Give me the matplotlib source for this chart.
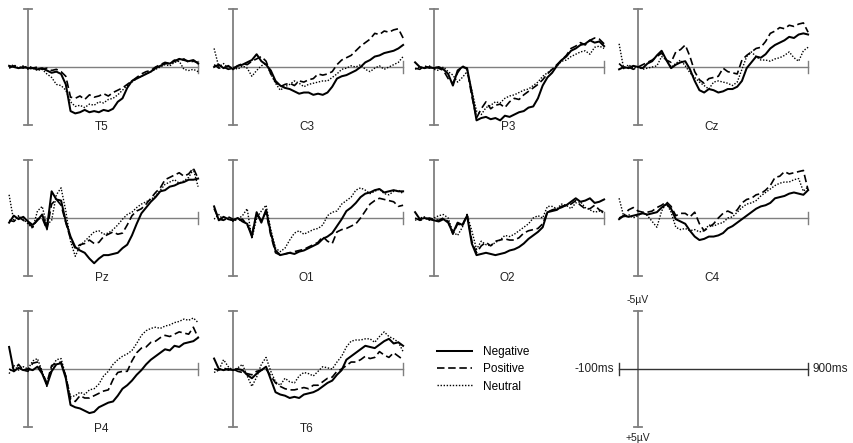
import matplotlib
matplotlib.use("Agg")
import matplotlib.pyplot as plt
from matplotlib.lines import Line2D
import numpy as np

plt.rcParams['font.family'] = ['Liberation Sans', 'DejaVu Sans']

# time axis (ms)
times = list(range(-100, 901, 25))

# amplitudes in microvolts (negative plotted up)
T5_negative = [-0.1, 0.0, 0.1, 0.0, 0.1, 0.1, 0.2, 0.1, 0.3, 0.5, 0.4, 0.6, 1.5, 3.8, 4.0, 3.9, 3.7, 3.9, 3.8, 3.9, 3.7, 3.8, 3.6, 3.0, 2.7, 1.8, 1.2, 1.0, 0.8, 0.6, 0.4, 0.1, -0.1, -0.3, -0.3, -0.5, -0.7, -0.6, -0.5, -0.6, -0.3]
T5_positive = [0.1, -0.1, 0.0, 0.1, -0.1, 0.1, 0.0, 0.2, 0.1, 0.3, 0.2, 0.4, 0.8, 2.6, 2.7, 2.5, 2.8, 2.4, 2.6, 2.5, 2.3, 2.5, 2.2, 2.0, 1.8, 1.5, 1.2, 0.9, 0.6, 0.4, 0.3, 0.0, -0.2, -0.4, -0.3, -0.6, -0.5, -0.7, -0.4, -0.5, -0.4]
T5_neutral = [0.0, -0.2, 0.1, -0.1, 0.2, 0.1, 0.3, 0.2, 0.6, 0.9, 1.5, 1.6, 2.0, 3.0, 3.4, 3.3, 3.5, 3.2, 3.3, 3.0, 3.1, 2.8, 2.7, 2.4, 2.0, 1.6, 1.3, 1.0, 0.8, 0.6, 0.4, 0.2, 0.0, -0.2, -0.1, -0.4, -0.5, 0.2, 0.3, 0.2, 0.4]

C3_negative = [0.0, -0.2, 0.1, -0.1, 0.2, -0.1, -0.2, -0.4, -0.6, -1.1, -0.5, -0.2, 0.3, 1.2, 1.6, 1.8, 1.9, 2.1, 2.3, 2.2, 2.2, 2.4, 2.3, 2.4, 2.2, 1.7, 1.0, 0.8, 0.7, 0.5, 0.3, 0.0, -0.4, -0.6, -0.9, -1.0, -1.2, -1.3, -1.4, -1.6, -1.9]
C3_positive = [-0.2, 0.1, 0.0, 0.2, 0.1, -0.1, -0.3, -0.2, -0.5, -0.7, -0.9, -0.5, 0.6, 1.3, 1.7, 1.5, 1.4, 1.6, 1.2, 1.3, 1.1, 1.0, 0.6, 0.7, 0.6, 0.4, -0.2, -0.6, -0.8, -1.0, -1.4, -1.8, -2.1, -2.4, -2.9, -2.8, -3.1, -3.0, -3.2, -3.3, -2.5]
C3_neutral = [-1.6, 0.0, -0.3, 0.1, 0.0, 0.2, -0.1, 0.1, 0.8, 0.3, -0.1, -0.3, 0.6, 1.4, 2.0, 1.7, 1.5, 1.2, 1.4, 1.7, 1.5, 1.4, 1.3, 1.2, 1.2, 0.9, 0.6, 0.2, 0.1, -0.1, 0.0, -0.2, 0.2, 0.4, 0.1, -0.1, 0.2, 0.0, -0.2, -0.4, -0.9]

P3_negative = [-0.4, 0.0, 0.1, 0.0, 0.1, 0.0, 0.2, 0.6, 1.6, 0.3, 0.0, 0.1, 2.2, 4.6, 4.4, 4.3, 4.5, 4.4, 4.6, 4.2, 4.3, 4.1, 3.9, 3.8, 3.5, 3.4, 2.7, 1.6, 0.9, 0.5, -0.1, -0.6, -0.9, -1.4, -1.6, -1.9, -2.0, -2.3, -2.1, -2.2, -1.8]
P3_positive = [0.1, 0.2, -0.1, 0.1, 0.0, 0.1, 0.3, 1.0, 1.4, 0.5, -0.1, 0.2, 2.5, 4.4, 3.6, 3.0, 3.6, 3.3, 3.2, 3.5, 3.0, 2.7, 2.8, 2.4, 2.1, 1.8, 1.5, 1.1, 0.6, 0.2, -0.2, -0.6, -1.0, -1.6, -1.8, -2.1, -1.9, -2.3, -2.5, -2.4, -2.0]
P3_neutral = [0.2, 0.0, 0.1, -0.1, 0.2, 0.3, 0.0, 0.4, 0.7, 1.3, 0.9, 0.4, 2.0, 3.8, 4.1, 3.5, 3.3, 3.0, 3.1, 2.7, 2.5, 2.4, 2.2, 2.0, 1.9, 1.6, 1.3, 0.8, 0.5, 0.2, -0.1, -0.5, -0.6, -0.9, -1.1, -1.3, -1.4, -1.1, -1.7, -1.8, -1.6]

Cz_negative = [0.2, 0.0, 0.1, -0.1, 0.0, 0.1, -0.3, -0.5, -1.0, -1.4, -0.6, 0.1, -0.2, -0.4, -0.5, 0.2, 1.2, 2.0, 2.2, 1.9, 2.0, 2.2, 2.1, 1.9, 1.9, 1.7, 1.2, 0.1, -0.4, -0.9, -0.8, -1.1, -1.6, -1.9, -2.1, -2.3, -2.6, -2.5, -2.8, -2.9, -2.8]
Cz_positive = [-0.3, 0.1, 0.0, 0.2, 0.0, -0.2, -0.4, -0.6, -0.9, -1.2, -0.6, -0.4, -1.3, -1.5, -1.9, -0.9, 0.4, 1.1, 1.4, 1.0, 0.9, 0.8, 0.1, 0.4, 0.5, 0.6, -0.6, -1.0, -1.3, -1.6, -1.7, -2.2, -2.9, -3.1, -3.4, -3.3, -3.6, -3.5, -3.7, -3.8, -3.0]
Cz_neutral = [-2.0, 0.2, -0.2, 0.1, 0.0, 0.2, 0.1, 0.0, -0.1, -0.9, -0.6, 0.0, -0.3, -0.6, -0.1, 0.5, 0.9, 1.3, 1.6, 1.9, 1.3, 1.2, 1.3, 1.4, 1.6, 1.3, 0.2, -0.9, -1.3, -0.9, -0.6, -0.6, -0.5, -0.7, -0.8, -1.0, -1.3, -0.8, -0.5, -1.4, -1.7]

Pz_negative = [0.4, -0.2, 0.1, -0.1, 0.3, 0.6, 0.2, -0.3, 0.9, -2.3, -1.6, -1.5, 0.3, 1.6, 2.5, 2.8, 3.0, 3.5, 3.9, 3.5, 3.2, 3.2, 3.1, 3.0, 2.6, 2.3, 1.5, 0.5, -0.4, -0.9, -1.4, -1.8, -2.3, -2.4, -2.7, -2.8, -3.0, -3.1, -3.3, -3.3, -3.4]
Pz_positive = [0.2, 0.3, -0.1, 0.2, 0.4, 0.8, 0.1, 0.0, 1.0, -1.2, -1.6, -1.1, 0.4, 1.8, 2.6, 2.3, 2.2, 1.9, 2.2, 2.1, 1.6, 1.4, 1.2, 1.4, 1.3, 0.6, -0.2, -0.6, -0.8, -1.2, -1.7, -2.2, -2.6, -3.3, -3.5, -3.7, -3.9, -3.6, -3.8, -4.3, -3.4]
Pz_neutral = [-2.0, 0.3, -0.2, 0.1, 0.5, 0.9, -0.6, -1.0, 0.6, 0.2, -2.0, -2.6, -0.6, 2.0, 3.3, 2.4, 2.0, 1.6, 1.2, 1.1, 1.4, 1.3, 1.0, 0.6, 0.1, -0.3, -0.5, -0.9, -1.2, -1.4, -1.6, -1.9, -2.4, -2.9, -3.1, -3.3, -3.0, -3.2, -3.5, -4.2, -2.7]

O1_negative = [-1.0, 0.2, -0.1, 0.1, 0.2, 0.0, 0.3, 0.5, 1.6, -0.5, 0.4, -0.7, 1.3, 2.8, 3.2, 3.1, 3.0, 3.1, 2.9, 2.8, 2.6, 2.4, 2.2, 1.8, 1.6, 1.3, 0.7, 0.1, -0.6, -0.9, -1.3, -1.8, -2.1, -2.2, -2.4, -2.5, -2.2, -2.3, -2.4, -2.3, -2.3]
O1_positive = [-0.8, 0.1, 0.2, -0.1, 0.1, 0.2, 0.1, 0.6, 1.4, -0.4, 0.2, -0.5, 1.5, 3.0, 3.2, 3.1, 3.0, 2.9, 2.8, 2.7, 2.5, 2.3, 2.1, 1.6, 2.0, 2.2, 1.2, 1.0, 0.9, 0.7, 0.5, 0.0, -0.6, -1.2, -1.5, -1.7, -1.6, -1.5, -1.4, -1.0, -1.1]
O1_neutral = [0.1, -0.3, 0.2, 0.0, 0.3, 0.1, -0.2, -0.8, 1.8, 0.0, -0.6, -1.1, 1.0, 2.6, 2.9, 2.6, 1.9, 1.3, 1.1, 1.4, 1.2, 1.0, 0.9, 0.6, -0.2, -0.5, -0.6, -1.2, -1.5, -1.8, -2.4, -2.6, -2.4, -2.1, -2.3, -2.5, -2.1, -2.0, -2.3, -2.4, -2.1]

O2_negative = [-0.5, 0.1, 0.0, 0.1, 0.2, 0.3, 0.1, 0.4, 1.3, 0.4, 0.6, -0.2, 2.2, 3.2, 3.1, 3.0, 3.1, 3.2, 3.1, 3.0, 2.8, 2.7, 2.5, 2.2, 1.8, 1.5, 1.2, 0.8, -0.5, -0.6, -0.7, -1.0, -1.1, -1.4, -1.7, -1.4, -1.5, -1.7, -1.3, -1.4, -1.6]
O2_positive = [0.0, 0.2, 0.1, 0.0, 0.1, 0.2, 0.0, 0.3, 1.4, 0.5, 0.7, -0.3, 2.0, 3.0, 2.4, 2.1, 2.4, 2.0, 1.9, 1.8, 1.9, 1.9, 1.7, 1.3, 1.1, 1.0, 0.9, 0.5, -0.5, -0.7, -0.8, -0.9, -1.1, -1.2, -1.5, -1.1, -0.8, -0.8, -1.1, -0.7, -0.5]
O2_neutral = [0.2, 0.0, -0.1, 0.2, 0.0, -0.2, -0.3, 0.0, 1.2, 1.5, 0.8, -0.3, 1.1, 2.7, 2.0, 2.3, 2.4, 2.1, 1.9, 1.5, 1.6, 1.4, 1.1, 0.8, 0.5, 0.0, -0.2, 0.0, -1.0, -1.0, -0.8, -1.2, -1.1, -0.8, -1.3, -1.4, -0.9, -0.7, -0.5, -0.6, -0.4]

C4_negative = [0.1, -0.2, -0.1, -0.2, -0.3, -0.4, -0.3, -0.4, -0.5, -0.9, -1.2, -0.8, 0.1, 0.3, 0.5, 1.1, 1.6, 1.9, 1.8, 1.6, 1.6, 1.5, 1.3, 0.9, 0.7, 0.4, 0.1, -0.2, -0.5, -0.8, -1.0, -1.1, -1.3, -1.7, -1.8, -1.9, -2.1, -2.2, -2.1, -2.0, -2.4]
C4_positive = [0.0, -0.2, -0.7, -0.9, -0.6, -0.5, -0.5, -0.6, -0.9, -1.1, -1.4, -1.0, -0.2, -0.4, -0.4, -0.1, -0.5, 0.5, 1.1, 0.8, 0.5, 0.0, -0.4, -0.6, -0.4, -0.7, -1.3, -1.6, -1.7, -2.0, -2.1, -2.4, -2.8, -3.5, -3.6, -4.0, -3.8, -3.9, -4.0, -4.1, -2.4]
C4_neutral = [-1.7, -0.1, -0.3, 0.0, -0.2, -0.5, -0.2, 0.3, 0.8, -0.6, -1.3, -0.5, 0.8, 1.0, 0.9, 1.1, 1.0, 1.2, 1.1, 0.6, 0.7, 0.5, 0.4, 0.0, -0.1, -0.5, -0.9, -1.2, -1.3, -1.5, -1.9, -2.2, -2.5, -2.8, -3.0, -3.1, -3.1, -3.3, -3.4, -2.3, -2.7]

P4_negative = [-1.9, 0.2, -0.1, 0.1, 0.0, 0.1, -0.2, 0.4, 1.4, 0.2, -0.4, -0.5, 0.8, 3.1, 3.3, 3.4, 3.6, 3.8, 3.7, 3.3, 3.1, 2.9, 2.8, 2.3, 1.7, 1.4, 1.0, 0.5, 0.1, -0.4, -0.8, -1.1, -1.4, -1.7, -1.6, -2.0, -1.9, -2.2, -2.3, -2.4, -2.7]
P4_positive = [0.0, 0.2, -0.4, 0.1, 0.2, -0.5, -0.6, 0.3, 1.2, -0.3, -0.5, -0.6, 0.6, 2.6, 2.8, 2.3, 2.5, 2.5, 2.3, 2.1, 1.9, 1.8, 0.9, 0.3, 0.2, 0.2, -0.7, -1.4, -1.8, -1.9, -2.3, -2.4, -2.7, -2.9, -2.8, -3.0, -3.2, -3.1, -3.0, -3.6, -2.7]
P4_neutral = [0.4, -0.3, 0.1, -0.2, 0.0, -0.7, -0.9, 0.2, 1.5, -0.1, -0.8, -0.9, 0.6, 2.4, 2.3, 2.0, 2.2, 1.8, 1.7, 1.3, 0.6, 0.2, -0.4, -0.8, -1.1, -1.3, -1.6, -2.2, -2.9, -3.3, -3.5, -3.6, -3.5, -3.7, -3.8, -4.0, -4.1, -4.3, -4.2, -4.4, -4.0]

T6_negative = [-0.9, 0.0, 0.1, 0.0, 0.1, 0.0, 0.1, 0.5, 0.8, 0.4, 0.1, -0.2, 0.9, 2.0, 2.2, 2.3, 2.5, 2.4, 2.5, 2.2, 2.1, 2.0, 1.8, 1.5, 1.2, 1.0, 0.5, 0.1, -0.8, -1.1, -1.4, -1.7, -2.0, -1.9, -1.8, -2.1, -2.4, -2.6, -2.2, -2.3, -2.0]
T6_positive = [0.0, 0.1, -0.1, 0.1, 0.0, 0.2, 0.3, 0.4, 0.5, 0.2, 0.1, 0.0, 0.6, 1.2, 1.5, 1.7, 1.8, 1.8, 1.7, 1.6, 1.7, 1.4, 1.4, 1.1, 0.8, 0.7, 0.2, 0.0, -0.3, -0.6, -0.6, -0.8, -1.1, -0.9, -1.0, -1.5, -1.2, -1.0, -1.4, -1.1, -0.8]
T6_neutral = [0.3, 0.1, -0.8, -0.2, 0.1, -0.1, -0.4, 0.6, 1.5, 0.7, -0.4, -1.0, 0.2, 1.1, 1.4, 0.8, 1.1, 1.2, 0.6, 0.3, 0.4, 0.6, 0.2, -0.2, -0.1, 0.0, -0.6, -1.1, -1.9, -2.4, -2.5, -2.5, -2.6, -2.6, -2.3, -2.8, -3.2, -2.8, -2.6, -2.3, -1.5]

electrodes = ["T5", "C3", "P3", "Cz", "Pz", "O1", "O2", "C4", "P4", "T6"]
conditions = ["Negative", "Positive", "Neutral"]
series = {
    "T5": (T5_negative, T5_positive, T5_neutral),
    "C3": (C3_negative, C3_positive, C3_neutral),
    "P3": (P3_negative, P3_positive, P3_neutral),
    "Cz": (Cz_negative, Cz_positive, Cz_neutral),
    "Pz": (Pz_negative, Pz_positive, Pz_neutral),
    "O1": (O1_negative, O1_positive, O1_neutral),
    "O2": (O2_negative, O2_positive, O2_neutral),
    "C4": (C4_negative, C4_positive, C4_neutral),
    "P4": (P4_negative, P4_positive, P4_neutral),
    "T6": (T6_negative, T6_positive, T6_neutral),
}

# ---- layout (pixels) ----
W, H = 854, 443
col_x0 = [28, 233, 434, 638]     # pixel x of 0 ms
row_y0 = [67, 218, 369]          # pixel y of 0 uV
px_per_ms = 0.189
half_h = 58.0                    # pixels for 5 uV

styles = [
    dict(color="black", lw=1.45, ls="-"),
    dict(color="black", lw=1.2, ls=(0, (4.5, 2.2))),
    dict(color="black", lw=1.0, ls=(0, (1.0, 1.2))),
]
axis_color = "#7f7f7f"

fig = plt.figure(figsize=(W / 100, H / 100), dpi=100)


def make_axes(col, row):
    x0 = col_x0[col]
    y0 = row_y0[row]
    left = (x0 - 100 * px_per_ms) / W
    width = 1000 * px_per_ms / W
    bottom = 1 - (y0 + half_h) / H
    height = 2 * half_h / H
    ax = fig.add_axes([left, bottom, width, height])
    ax.set_xlim(-100, 900)
    ax.set_ylim(5, -5)
    ax.axis("off")
    return ax


def draw_axes_lines(ax, left_cap=False, hcolor=axis_color):
    ax.plot([0, 0], [-5, 5], color=axis_color, lw=1.3, zorder=1, clip_on=False)
    ax.plot([-21, 21], [-5, -5], color=axis_color, lw=1.3, zorder=1, clip_on=False)
    ax.plot([-21, 21], [5, 5], color=axis_color, lw=1.3, zorder=1, clip_on=False)
    xs = -100 if left_cap else 0
    ax.plot([xs, 900], [0, 0], color=hcolor, lw=1.0, zorder=1, clip_on=False)
    ax.plot([900, 900], [-0.5, 0.5], color=hcolor, lw=1.0, zorder=1, clip_on=False)
    if left_cap:
        ax.plot([-100, -100], [-0.5, 0.5], color=hcolor, lw=1.0, zorder=1, clip_on=False)


for i, name in enumerate(electrodes):
    row, col = divmod(i, 4)
    ax = make_axes(col, row)
    draw_axes_lines(ax)
    for vals, st in zip(series[name], styles):
        ax.plot(times, vals, zorder=3, clip_on=False, **st)
    ax.text(390, 5.2, name, ha="center", va="center", fontsize=8.5, color="#222222")

# scale panel
sax = make_axes(3, 2)
draw_axes_lines(sax, left_cap=True, hcolor="#333333")
fs = 8.5
sax.annotate("-5\u00b5V", xy=(0, -5), xytext=(0, 8), textcoords="offset points",
             ha="center", va="center", fontsize=7.5, color="#222222")
sax.annotate("+5\u00b5V", xy=(0, 5), xytext=(0, -8), textcoords="offset points",
             ha="center", va="center", fontsize=7.5, color="#222222")
sax.annotate("-100ms", xy=(-100, 0), xytext=(-4, 0), textcoords="offset points",
             ha="right", va="center", fontsize=fs, color="#222222")
sax.annotate("900ms", xy=(900, 0), xytext=(3, 0), textcoords="offset points",
             ha="left", va="center", fontsize=fs, color="#222222")

# legend
leg_handles = [Line2D([], [], **st) for st in styles]
fig.legend(leg_handles, conditions, loc="upper left",
           bbox_to_anchor=(437 / W, 1 - 346 / H), frameon=False,
           fontsize=fs, handlelength=3.0, handletextpad=0.9,
           labelspacing=0.45, borderpad=0, borderaxespad=0)

fig.savefig("out.png", dpi=100)
